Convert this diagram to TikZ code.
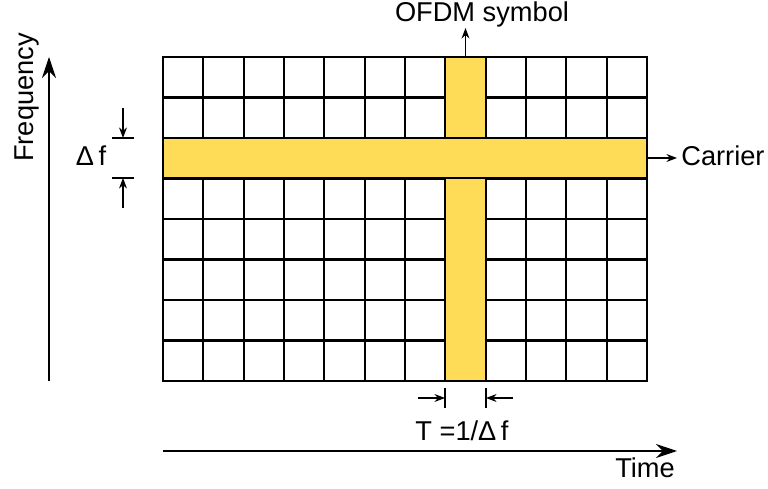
\documentclass[tikz,border=0pt]{standalone}
\usepackage{fontspec}
\setmainfont{Liberation Sans}
\usepackage{xcolor}
\usetikzlibrary{arrows.meta}
\definecolor{slotyellow}{RGB}{255,220,88}

\begin{document}
\begin{tikzpicture}[
  x=0.02cm, y=-0.02cm,
  every node/.style={font=\fontsize{15.5}{18}\selectfont, inner sep=0pt},
  cell/.style={draw, line width=1.2pt},
  band/.style={draw, line width=1.2pt, fill=slotyellow},
  axis/.style={-{Stealth[length=12pt, width=8pt]}, line width=0.8pt},
  pointer/.style={-{Stealth[length=6pt, width=4.5pt]}, line width=0.7pt},
  tick/.style={line width=0.7pt},
]
  \useasboundingbox (0,0) rectangle (768,489);

  % time-frequency grid
  \foreach \i in {0,...,11}
    \foreach \j in {0,...,7}
      \draw[cell] (163+\i*40.33, 57+\j*40.5) rectangle ++(40.33, 40.5);

  \node (sym) at (465.5, 219) [band, minimum width=0.82cm, minimum height=6.48cm] {};
  \node (car) at (405, 158) [band, minimum width=9.68cm, minimum height=0.81cm] {};

  % labels
  \node (symlabel) at (482, 22) [anchor=base] {OFDM symbol};
  \node (carlabel) at (681, 166) [anchor=base west] {Carrier};
  \node (freq) at (33, 97.5) [rotate=90, anchor=base] {Frequency};
  \node (df) at (91, 166) [anchor=base] {Δ\,f};
  \node (period) at (462, 441) [anchor=base] {T =1/Δ\,f};
  \node (time) at (645, 478) [anchor=base] {Time};

  % axes
  \coordinate (freqlow) at (49, 381);
  \coordinate (freqtop) at (49, 57);
  \coordinate (timeleft) at (163, 451);
  \coordinate (timeright) at (677, 451);
  \draw[axis] (freqlow) -- (freqtop);
  \draw[axis] (timeleft) -- (timeright);

  % pointers
  \coordinate (symtip) at (465.5, 28);
  \coordinate (cartip) at (677, 158);
  \draw[pointer] (sym.north) -- (symtip);
  \draw[pointer] (car.east) -- (cartip);

  % spacing of carriers
  \coordinate (dfhi) at (123, 138);
  \coordinate (dflo) at (123, 178);
  \coordinate (dfhitail) at (123, 108);
  \coordinate (dflotail) at (123, 208);
  \draw[tick] ([xshift=-0.22cm]dfhi) -- ([xshift=0.22cm]dfhi);
  \draw[tick] ([xshift=-0.22cm]dflo) -- ([xshift=0.22cm]dflo);
  \draw[pointer] (dfhitail) -- (dfhi);
  \draw[pointer] (dflotail) -- (dflo);

  % symbol duration
  \coordinate (tleft) at (445, 398);
  \coordinate (tright) at (486, 398);
  \coordinate (tlefttail) at (418, 398);
  \coordinate (trighttail) at (513, 398);
  \draw[tick] ([yshift=0.2cm]tleft) -- ([yshift=-0.2cm]tleft);
  \draw[tick] ([yshift=0.2cm]tright) -- ([yshift=-0.2cm]tright);
  \draw[pointer] (tlefttail) -- (tleft);
  \draw[pointer] (trighttail) -- (tright);
\end{tikzpicture}
\end{document}
